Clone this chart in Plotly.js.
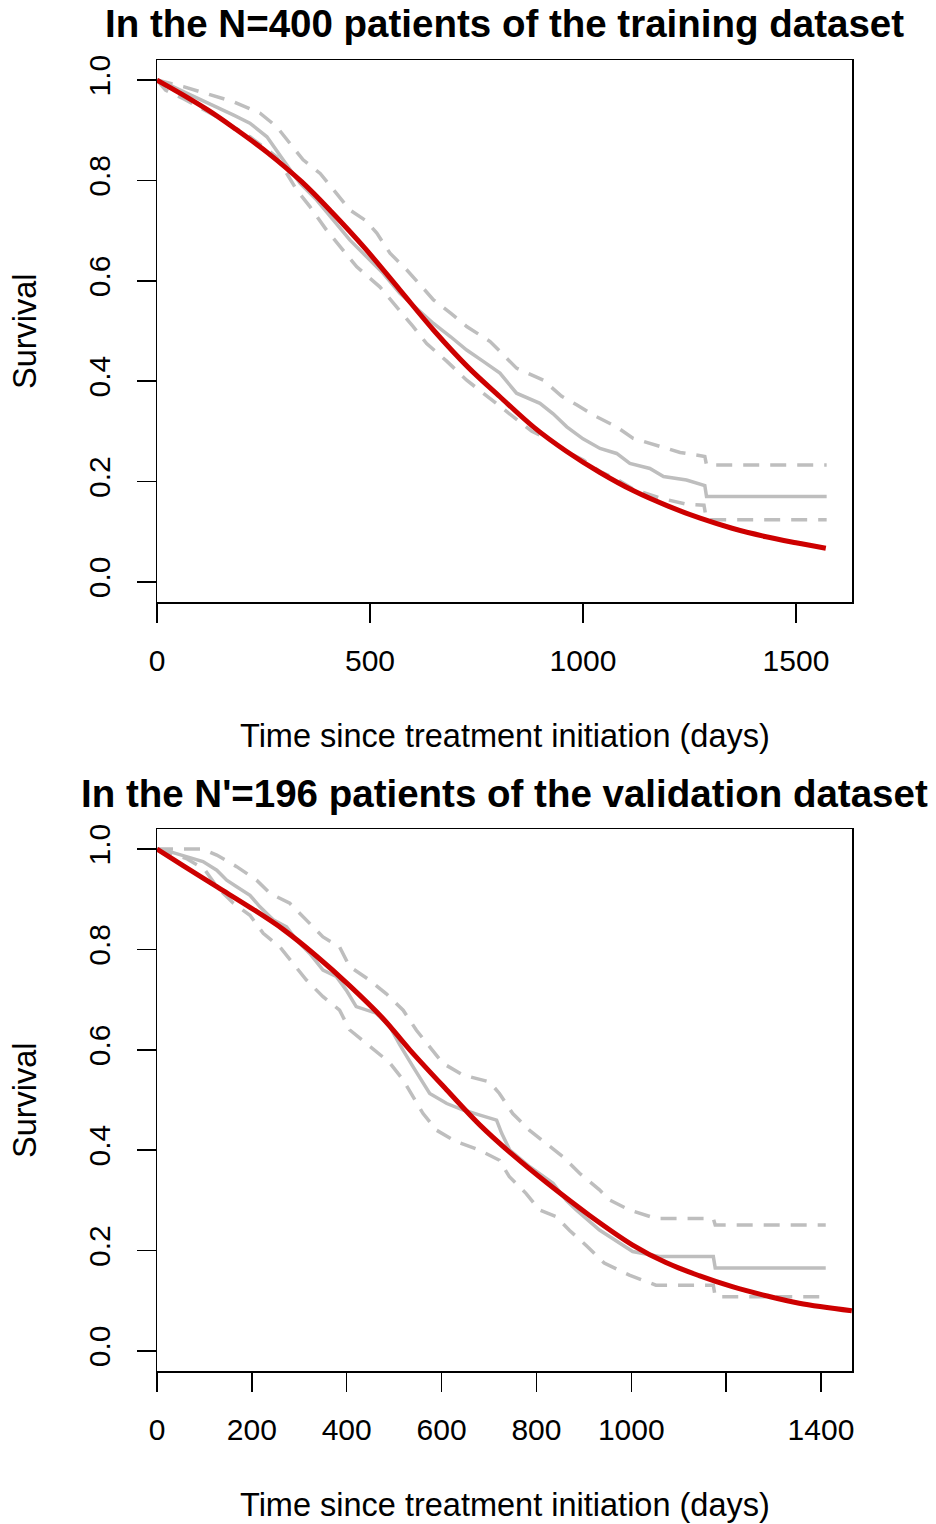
<!DOCTYPE html>
<html>
<head>
<meta charset="utf-8">
<script src="https://cdn.plot.ly/plotly-3.0.1.min.js"></script>
<style>html,body{margin:0;padding:0;background:#fff;}#chart{width:936px;height:1524px;}</style>
</head>
<body>
<div id="chart"></div>
<script>
// ---------- Training dataset (N=400) ----------
var trainModelT = [0, 60, 120, 180, 260, 340, 410, 490, 570, 650, 730, 805, 885, 960, 1040, 1120, 1200, 1275, 1350, 1430, 1500, 1570];
var trainModelS = [1.0, 0.971, 0.940, 0.905, 0.855, 0.797, 0.737, 0.663, 0.582, 0.501, 0.428, 0.369, 0.308, 0.261, 0.218, 0.181, 0.151, 0.127, 0.107, 0.090, 0.078, 0.067];

var trainKmT = [0, 30, 62, 100, 140, 180, 218, 258, 296, 336, 375, 414, 453, 492, 531, 570, 610, 649, 690, 727, 765, 805, 844, 870, 899, 930, 962, 1000, 1040, 1079, 1110, 1157, 1189, 1243, 1286, 1290, 1572];
var trainKmS = [1.0, 0.990, 0.977, 0.962, 0.947, 0.930, 0.914, 0.887, 0.841, 0.794, 0.761, 0.721, 0.681, 0.648, 0.615, 0.575, 0.545, 0.515, 0.488, 0.462, 0.440, 0.416, 0.376, 0.366, 0.356, 0.335, 0.309, 0.285, 0.266, 0.256, 0.236, 0.226, 0.210, 0.203, 0.192, 0.170, 0.170];

var trainUpT = [0, 62, 120, 179, 242, 281, 312, 343, 383, 414, 453, 490, 516, 547, 586, 620, 649, 690, 727, 782, 844, 907, 950, 985, 1030, 1079, 1118, 1181, 1228, 1286, 1290, 1572];
var trainUpS = [1.0, 0.987, 0.972, 0.957, 0.934, 0.907, 0.874, 0.841, 0.814, 0.781, 0.741, 0.720, 0.695, 0.655, 0.622, 0.590, 0.562, 0.535, 0.509, 0.479, 0.426, 0.402, 0.370, 0.353, 0.330, 0.309, 0.286, 0.270, 0.258, 0.250, 0.233, 0.233];

var trainLoT = [0, 20, 62, 140, 218, 281, 328, 359, 398, 437, 469, 523, 570, 600, 633, 680, 727, 790, 844, 880, 922, 960, 1001, 1040, 1079, 1118, 1181, 1243, 1284, 1290, 1572];
var trainLoS = [1.0, 0.980, 0.963, 0.927, 0.887, 0.847, 0.781, 0.748, 0.701, 0.661, 0.628, 0.588, 0.542, 0.510, 0.475, 0.440, 0.402, 0.360, 0.323, 0.300, 0.283, 0.260, 0.243, 0.220, 0.205, 0.185, 0.167, 0.155, 0.153, 0.124, 0.124];

var trainTicks = [0, 500, 1000, 1500];
var trainTickText = ['0', '500', '1000', '1500'];

// ---------- Validation dataset (N'=196) ----------
var validModelT = [0, 55, 126, 196, 266, 336, 406, 476, 533, 611, 681, 751, 822, 912, 1003, 1073, 1143, 1213, 1284, 1354, 1465];
var validModelS = [1.0, 0.967, 0.925, 0.884, 0.840, 0.787, 0.728, 0.663, 0.600, 0.520, 0.450, 0.390, 0.335, 0.270, 0.211, 0.176, 0.150, 0.128, 0.110, 0.095, 0.080];

var validKmT = [0, 27, 62, 97, 126, 147, 168, 196, 217, 245, 273, 294, 322, 350, 378, 399, 420, 462, 491, 512, 540, 575, 611, 646, 681, 716, 727, 744, 786, 835, 863, 884, 933, 1003, 1059, 1173, 1177, 1410];
var validKmS = [1.0, 0.995, 0.985, 0.975, 0.958, 0.938, 0.925, 0.908, 0.885, 0.859, 0.845, 0.819, 0.792, 0.759, 0.746, 0.719, 0.686, 0.673, 0.646, 0.610, 0.566, 0.513, 0.493, 0.480, 0.470, 0.460, 0.433, 0.400, 0.367, 0.334, 0.300, 0.281, 0.241, 0.198, 0.188, 0.188, 0.165, 0.165];

var validUpT = [0, 97, 126, 168, 210, 238, 280, 315, 350, 385, 406, 448, 483, 519, 547, 575, 603, 645, 701, 722, 750, 785, 820, 856, 891, 933, 954, 996, 1052, 1173, 1177, 1410];
var validUpS = [1.0, 1.0, 0.988, 0.965, 0.938, 0.912, 0.892, 0.859, 0.825, 0.805, 0.766, 0.739, 0.712, 0.679, 0.639, 0.606, 0.573, 0.550, 0.536, 0.513, 0.473, 0.440, 0.414, 0.387, 0.354, 0.321, 0.301, 0.281, 0.264, 0.264, 0.251, 0.251];

var validLoT = [0, 30, 62, 100, 126, 161, 196, 224, 259, 287, 315, 350, 385, 406, 441, 490, 519, 540, 561, 589, 631, 680, 722, 743, 778, 806, 841, 870, 905, 943, 996, 1052, 1173, 1177, 1410];
var validLoS = [1.0, 0.990, 0.981, 0.960, 0.925, 0.892, 0.868, 0.832, 0.805, 0.772, 0.739, 0.706, 0.679, 0.640, 0.613, 0.575, 0.540, 0.507, 0.473, 0.440, 0.417, 0.400, 0.380, 0.347, 0.314, 0.281, 0.268, 0.240, 0.210, 0.175, 0.151, 0.131, 0.131, 0.108, 0.108];

var validTicks = [0, 200, 400, 600, 800, 1000, 1200, 1400];
var validTickText = ['0', '200', '400', '600', '800', '1000', '', '1400'];

var yTicks = [0, 0.2, 0.4, 0.6, 0.8, 1.0];
var yTickText = ['0.0', '0.2', '0.4', '0.6', '0.8', '1.0'];

var titles = ['In the N=400 patients of the training dataset', "In the N'=196 patients of the validation dataset"];
var xTitle = 'Time since treatment initiation (days)';
var yTitle = 'Survival';

// ---------- styling ----------
var FONT = 'Liberation Sans, Arial, Helvetica, sans-serif';
var GRAY = '#BEBEBE';
var RED = '#CD0000';
var W = 936, H = 1524;

function kmTrace(x, y, dashed, ax) {
  return {x: x, y: y, type: 'scatter', mode: 'lines', xaxis: ax.x, yaxis: ax.y,
    line: {color: GRAY, width: 3.5, shape: 'linear', dash: dashed ? '16px,11px' : 'solid'},
    hoverinfo: 'skip', showlegend: false};
}
function modelTrace(x, y, ax) {
  return {x: x, y: y, type: 'scatter', mode: 'lines', xaxis: ax.x, yaxis: ax.y,
    line: {color: RED, width: 5, shape: 'spline', smoothing: 1},
    hoverinfo: 'skip', showlegend: false};
}
var A1 = {x: 'x', y: 'y'}, A2 = {x: 'x2', y: 'y2'};
var data = [
  kmTrace(trainUpT, trainUpS, true, A1),
  kmTrace(trainLoT, trainLoS, true, A1),
  kmTrace(trainKmT, trainKmS, false, A1),
  modelTrace(trainModelT, trainModelS, A1),
  kmTrace(validUpT, validUpS, true, A2),
  kmTrace(validLoT, validLoS, true, A2),
  kmTrace(validKmT, validKmS, false, A2),
  modelTrace(validModelT, validModelS, A2)
];

function px(xp) { return xp / W; }
function py(yp) { return 1 - yp / H; }

function xAxis(range, ticks, text, dom) {
  return {domain: dom, range: range, tickmode: 'array', tickvals: ticks, ticktext: text,
    showgrid: false, zeroline: false, showline: true, mirror: true, linecolor: '#000', linewidth: 1.5,
    ticks: 'outside', ticklen: 19, tickwidth: 1.5, tickcolor: '#000',
    tickfont: {family: FONT, size: 30, color: '#000'}, ticklabelstandoff: 12, fixedrange: true};
}
function yAxis(dom, anchor) {
  return {domain: dom, anchor: anchor, range: [-0.04, 1.04], tickmode: 'array', tickvals: yTicks, ticktext: yTickText,
    showgrid: false, zeroline: false, showline: true, mirror: true, linecolor: '#000', linewidth: 1.5,
    ticks: 'outside', ticklen: 19, tickwidth: 1.5, tickcolor: '#000', tickangle: -90,
    tickfont: {family: FONT, size: 30, color: '#000'}, ticklabelstandoff: 15, fixedrange: true};
}

var xd = [px(157), px(852)];
var layout = {
  width: W, height: H, margin: {l: 0, r: 0, t: 0, b: 0},
  paper_bgcolor: '#fff', plot_bgcolor: '#fff', showlegend: false,
  xaxis: Object.assign(xAxis([0, 1631.5], trainTicks, trainTickText, xd), {anchor: 'y'}),
  yaxis: yAxis([py(602), py(60)], 'x'),
  xaxis2: Object.assign(xAxis([0, 1465.4], validTicks, validTickText, xd), {anchor: 'y2'}),
  yaxis2: yAxis([py(1371), py(829)], 'x2'),
  annotations: [
    {text: '<b>' + titles[0] + '</b>', xref: 'paper', yref: 'paper', x: px(504.5), y: py(24), xanchor: 'center', yanchor: 'middle', showarrow: false, font: {family: FONT, size: 38.5, color: '#000'}},
    {text: '<b>' + titles[1] + '</b>', xref: 'paper', yref: 'paper', x: px(504.5), y: py(793), xanchor: 'center', yanchor: 'middle', showarrow: false, font: {family: FONT, size: 38.5, color: '#000'}},
    {text: xTitle, xref: 'paper', yref: 'paper', x: px(505), y: py(736), xanchor: 'center', yanchor: 'middle', showarrow: false, font: {family: FONT, size: 32.5, color: '#000'}},
    {text: xTitle, xref: 'paper', yref: 'paper', x: px(505), y: py(1505), xanchor: 'center', yanchor: 'middle', showarrow: false, font: {family: FONT, size: 32.5, color: '#000'}},
    {text: yTitle, xref: 'paper', yref: 'paper', x: px(25), y: py(331), xanchor: 'center', yanchor: 'middle', textangle: -90, showarrow: false, font: {family: FONT, size: 32.5, color: '#000'}},
    {text: yTitle, xref: 'paper', yref: 'paper', x: px(25), y: py(1100), xanchor: 'center', yanchor: 'middle', textangle: -90, showarrow: false, font: {family: FONT, size: 32.5, color: '#000'}}
  ]
};

Plotly.newPlot('chart', data, layout, {staticPlot: true, displayModeBar: false});
</script>
</body>
</html>
